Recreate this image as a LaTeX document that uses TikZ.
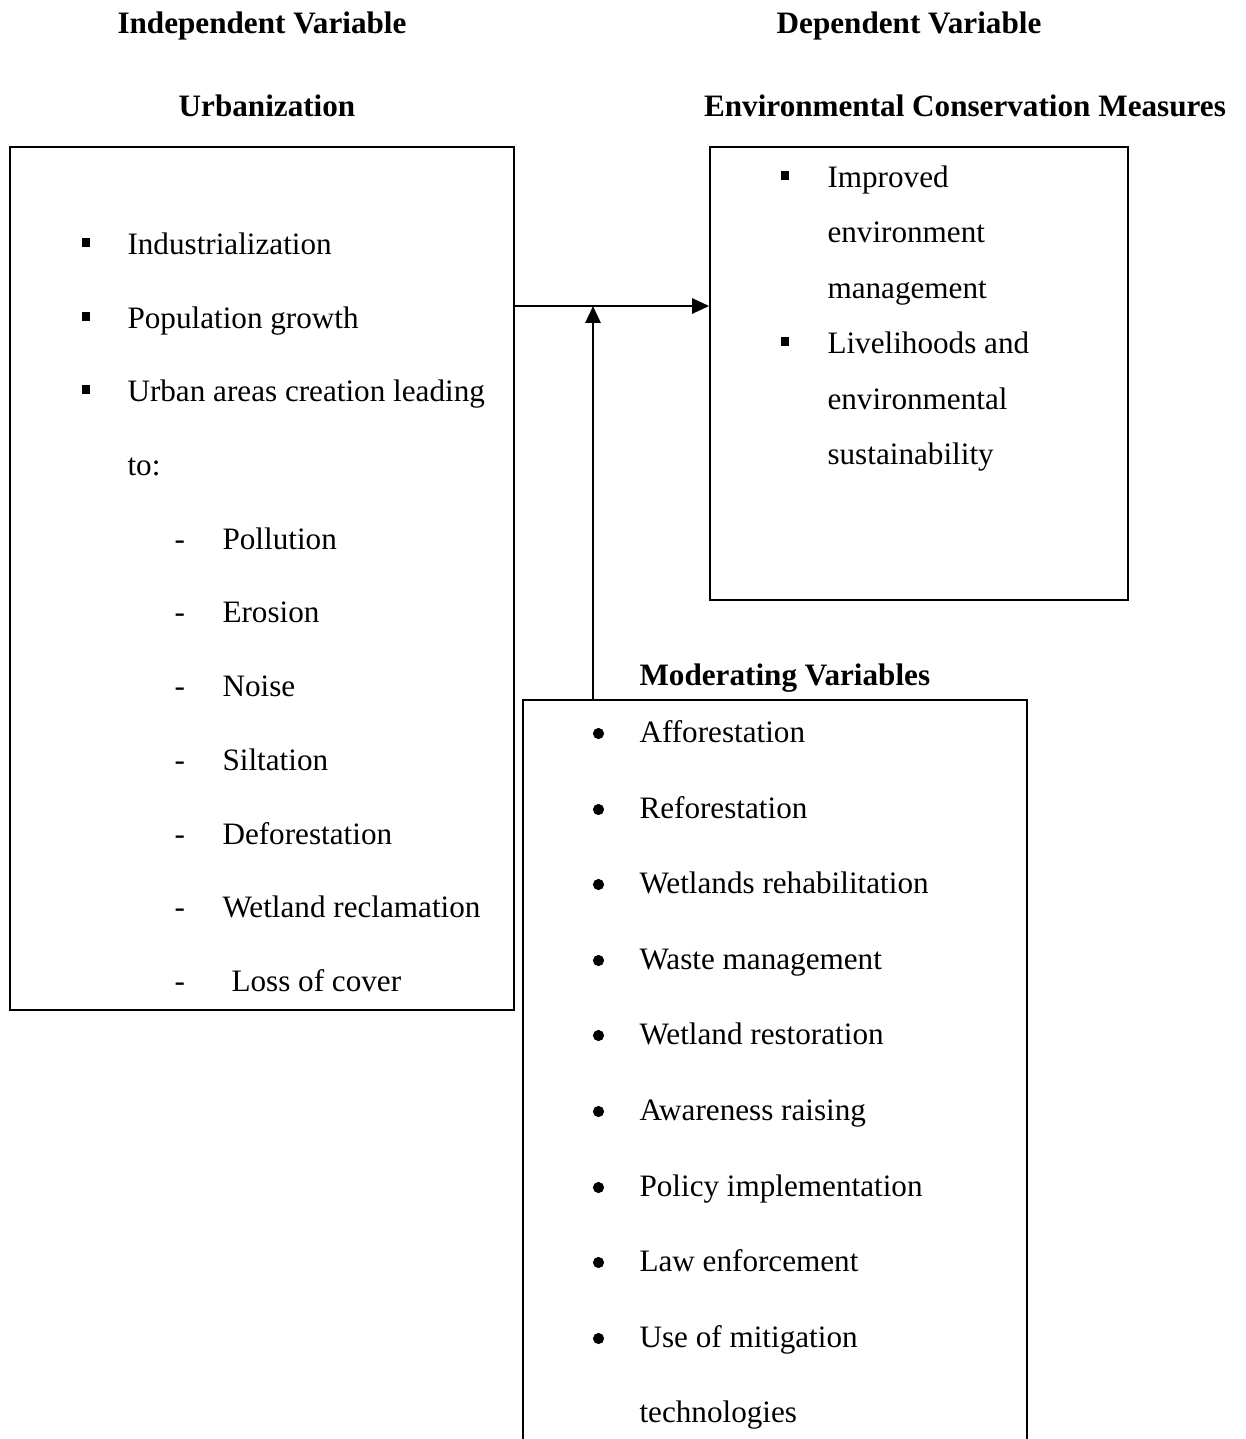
\documentclass[tikz,border=0pt]{standalone}
\usepackage{fontspec}
\setmainfont{Liberation Serif}
\usetikzlibrary{arrows.meta,fit}
\begin{document}
\begin{tikzpicture}[x=0.385pt, y=-0.385pt, font=\fontsize{12pt}{14pt}\selectfont,
		box/.style={draw, line width=0.7pt, inner sep=0pt},
		head/.style={font=\fontsize{12pt}{14pt}\selectfont\bfseries, inner sep=0pt, anchor=base},
		item/.style={inner sep=0pt, anchor=base west},
		sq/.style={rectangle, fill=black, inner sep=0pt, minimum size=3.1pt},
		dot/.style={circle, fill=black, inner sep=0pt, minimum size=4.3pt},
		link/.style={-{Triangle[length=6.5pt,width=5.8pt]}, line width=0.9pt}]

		\useasboundingbox (0,0) rectangle (1246,1439);

		\node[head] (iv) at (262,33) {Independent Variable};
		\node[head] (dv) at (909,33) {Dependent Variable};
		\node[head] (urb) at (267,116) {Urbanization};
		\node[head] (ecm) at (965,116) {Environmental Conservation Measures};
		\node[head, anchor=base west] (mv) at (639,685) {Moderating Variables};

		\node[box, fit={(10,147) (514,1010)}] (ubox) {};
		\node[box, fit={(710,147) (1128,600)}] (ebox) {};
		\node[box, fit={(523,700) (1027,1480)}] (mbox) {};

		\node[sq] (s1) at (86,242.5) {};
		\node[sq] (s2) at (86,316.5) {};
		\node[sq] (s3) at (86,389.5) {};
		\node[item] (u1) at (127,254) {Industrialization};
		\node[item] (u2) at (127,328) {Population growth};
		\node[item] (u3) at (127,401) {Urban areas creation leading};
		\node[item] (u4) at (127,475) {to:};
		\node[item] (d1) at (174,549) {-};
		\node[item] (d2) at (174,622) {-};
		\node[item] (d3) at (174,696) {-};
		\node[item] (d4) at (174,770) {-};
		\node[item] (d5) at (174,844) {-};
		\node[item] (d6) at (174,917) {-};
		\node[item] (d7) at (174,991) {-};
		\node[item] (u5) at (222,549) {Pollution};
		\node[item] (u6) at (222,622) {Erosion};
		\node[item] (u7) at (222,696) {Noise};
		\node[item] (u8) at (222,770) {Siltation};
		\node[item] (u9) at (222,844) {Deforestation};
		\node[item] (u10) at (222,917) {Wetland reclamation};
		\node[item] (u11) at (231,991) {Loss of cover};

		\node[sq] (s4) at (785,175.5) {};
		\node[sq] (s5) at (785,341.5) {};
		\node[item] (e1) at (827,187) {Improved};
		\node[item] (e2) at (827,242) {environment};
		\node[item] (e3) at (827,298) {management};
		\node[item] (e4) at (827,353) {Livelihoods and};
		\node[item] (e5) at (827,409) {environmental};
		\node[item] (e6) at (827,464) {sustainability};

		\node[dot] (o1) at (598.5,733.5) {};
		\node[dot] (o2) at (598.5,809.5) {};
		\node[dot] (o3) at (598.5,884.5) {};
		\node[dot] (o4) at (598.5,960.5) {};
		\node[dot] (o5) at (598.5,1035.5) {};
		\node[dot] (o6) at (598.5,1111.5) {};
		\node[dot] (o7) at (598.5,1187.5) {};
		\node[dot] (o8) at (598.5,1262.5) {};
		\node[dot] (o9) at (598.5,1338.5) {};
		\node[item] (m1) at (639,742) {Afforestation};
		\node[item] (m2) at (639,818) {Reforestation};
		\node[item] (m3) at (639,893) {Wetlands rehabilitation};
		\node[item] (m4) at (639,969) {Waste management};
		\node[item] (m5) at (639,1044) {Wetland restoration};
		\node[item] (m6) at (639,1120) {Awareness raising};
		\node[item] (m7) at (639,1196) {Policy implementation};
		\node[item] (m8) at (639,1271) {Law enforcement};
		\node[item] (m9) at (639,1347) {Use of mitigation};
		\node[item] (m10) at (639,1422) {technologies};

		\coordinate (j) at (593,306);
		\draw[link] (ubox.east |- j) -- (j -| ebox.west);
		\draw[link] (mbox.north -| j) -- (j);

	\end{tikzpicture}
\end{document}
